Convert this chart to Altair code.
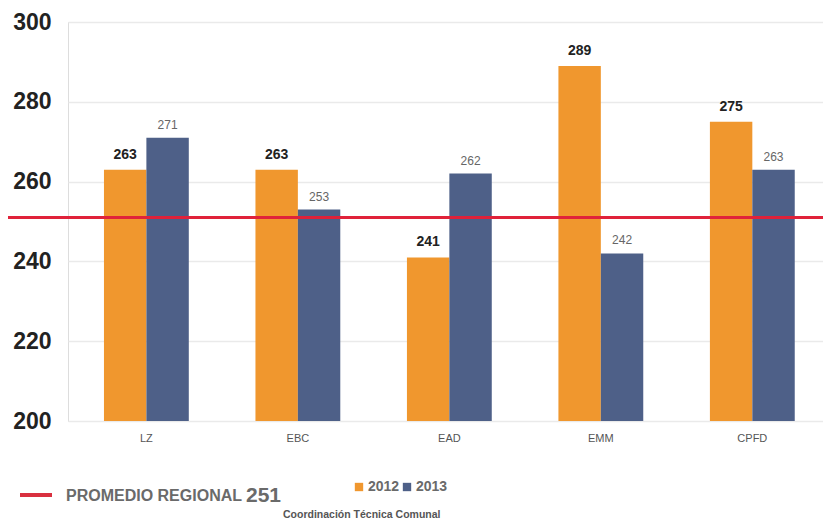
import altair as alt
import pandas as pd

categories = ["LZ", "EBC", "EAD", "EMM", "CPFD"]
values_2012 = [263, 263, 241, 289, 275]
values_2013 = [271, 253, 262, 242, 263]
years = ["2012", "2013"]
promedio = 251
y_ticks = [200, 220, 240, 260, 280, 300]

rows = []
for c, a, b in zip(categories, values_2012, values_2013):
    rows.append({"cat": c, "year": "2012", "value": a})
    rows.append({"cat": c, "year": "2013", "value": b})
df = pd.DataFrame(rows)

W, H = 755, 399
ORANGE = "#F0972E"
BLUE = "#4E6088"

x_enc = alt.X("cat:N", sort=categories, title=None,
              scale=alt.Scale(paddingInner=0.44, paddingOuter=0.212, align=0.56),
              axis=alt.Axis(labelFontSize=11, labelColor="#555555", labelPadding=11,
                            ticks=False, domain=False, labelAngle=0, labelFont="Liberation Sans"))
y_enc = alt.Y("value:Q", title=None,
              scale=alt.Scale(domain=[200, 300], nice=False, zero=False),
              axis=alt.Axis(values=y_ticks, labelFontSize=23, labelFontWeight="bold",
                            labelColor="#222222", labelPadding=17, ticks=False, domain=False,
                            gridColor="#EAEAEA", gridWidth=1.5, labelFont="Liberation Sans"))

bars = alt.Chart(df).mark_bar().encode(
    x=x_enc, y=y_enc, y2=alt.datum(200),
    xOffset=alt.XOffset("year:N", sort=years),
    color=alt.Color("year:N", sort=years,
                    scale=alt.Scale(domain=years, range=[ORANGE, BLUE]),
                    legend=alt.Legend(orient="none", legendX=284, legendY=458, direction="horizontal",
                                      title=None, symbolType="square", symbolSize=70,
                                      symbolStrokeWidth=0, labelFontSize=14, labelFontWeight="bold",
                                      labelColor="#6A6A6A", labelFont="Liberation Sans",
                                      columnPadding=-12, labelOffset=2)),
)

lab12 = alt.Chart(df[df.year == "2012"]).mark_text(
    baseline="bottom", dy=-8, fontSize=14, fontWeight="bold", color="#222222", font="Liberation Sans"
).encode(x=alt.X("cat:N", sort=categories), xOffset=alt.XOffset("year:N", sort=years),
         y="value:Q", text="value:Q")

lab13 = alt.Chart(df[df.year == "2013"]).mark_text(
    baseline="bottom", dy=-6, fontSize=12, color="#666666", font="Liberation Sans"
).encode(x=alt.X("cat:N", sort=categories), xOffset=alt.XOffset("year:N", sort=years),
         y="value:Q", text="value:Q")

avg_df = pd.DataFrame({"v": [promedio]})
rule = alt.Chart(avg_df).mark_rule(color="#E0223A", strokeWidth=3).encode(
    y="v:Q", x=alt.value(-70), x2=alt.value(770))

# bottom legend for the regional average
leg_line = alt.Chart(avg_df).mark_rule(color="#D9303F", strokeWidth=4).encode(
    x=alt.value(-48), x2=alt.value(-16), y=alt.value(473))
leg_text = alt.Chart(pd.DataFrame({"t": ["PROMEDIO REGIONAL"]})).mark_text(
    align="left", baseline="alphabetic", fontSize=16, fontWeight="bold", color="#6A6A6A",
    font="Liberation Sans").encode(x=alt.value(-2), y=alt.value(479), text="t:N")
leg_val = alt.Chart(avg_df).mark_text(
    align="left", baseline="alphabetic", fontSize=21, fontWeight="bold", color="#6A6A6A",
    font="Liberation Sans").encode(x=alt.value(178), y=alt.value(480), text="v:Q")
credit = alt.Chart(pd.DataFrame({"t": ["Coordinación Técnica Comunal"]})).mark_text(
    align="left", baseline="alphabetic", fontSize=10.5, fontWeight="bold", color="#555555",
    font="Liberation Sans").encode(x=alt.value(215), y=alt.value(496), text="t:N")

chart = alt.layer(bars, lab12, lab13, rule, leg_line, leg_text, leg_val, credit).properties(
    width=W, height=H,
    padding={"left": 60, "top": 14, "right": 0, "bottom": 100},
    autosize=alt.AutoSizeParams(type="none"),
).configure_view(stroke=None).configure(background="white")

chart.save("out.html", embed_options={"renderer": "svg", "actions": False})
